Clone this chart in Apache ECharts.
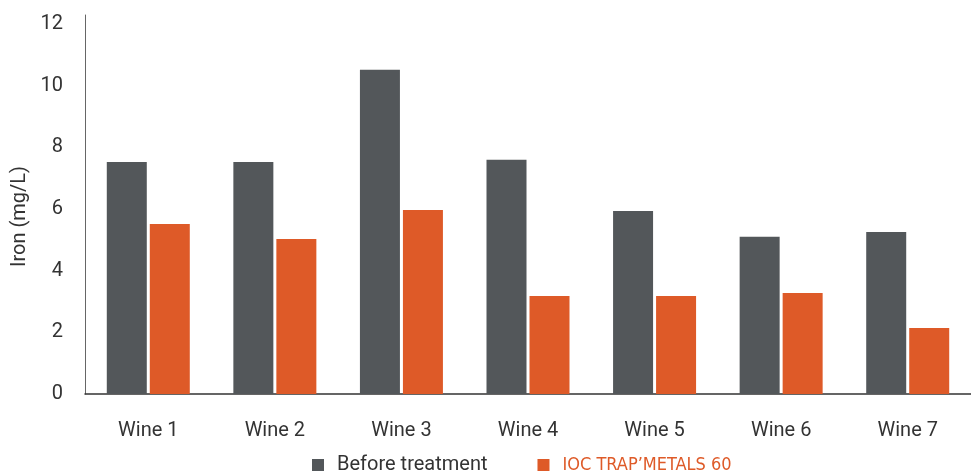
<!DOCTYPE html>
<html>
<head>
<meta charset="utf-8">
<script src="https://cdn.jsdelivr.net/npm/echarts@6/dist/echarts.min.js"></script>
<style>html,body{margin:0;padding:0;background:#fff}#c{width:971px;height:475px}</style>
</head>
<body>
<div id="c"></div>
<script>
const categories = ['Wine 1','Wine 2','Wine 3','Wine 4','Wine 5','Wine 6','Wine 7'];
const beforeTreatment = [7.53, 7.53, 10.52, 7.6, 5.94, 5.1, 5.26];
const trapMetals = [5.52, 5.03, 5.97, 3.18, 3.18, 3.28, 2.14];
const seriesNames = ['Before treatment', 'IOC TRAP\u2019METALS 60'];
const yTicks = [0, 2, 4, 6, 8, 10, 12];

const chart = echarts.init(document.getElementById('c'));
chart.setOption({
  animation: false,
  grid: {left: 85, top: 15, width: 894, height: 379},
  legend: {
    left: 307, top: 450,
    itemWidth: 12, itemHeight: 12, itemGap: 50,
    icon: 'rect',
    data: [
      {name: seriesNames[0], textStyle: {fontFamily: 'Roboto', fontSize: 20, color: '#333', padding: [0,0,0,8]}},
      {name: seriesNames[1], textStyle: {fontFamily: '"Liberation Sans Narrow", "DejaVu Sans Condensed", sans-serif', fontSize: 18, color: '#DE5A28', padding: [0,0,0,8]}}
    ]
  },
  xAxis: {
    type: 'category',
    data: categories,
    offset: 5,
    axisLine: {lineStyle: {color: '#333', width: 1.5}},
    axisTick: {show: false},
    axisLabel: {fontFamily: 'Roboto', fontSize: 20, color: '#333', margin: 22}
  },
  yAxis: {
    type: 'value',
    min: yTicks[0], max: 12.3, interval: 2,
    name: 'Iron (mg/L)',
    nameLocation: 'middle',
    nameGap: 54,
    nameTextStyle: {fontFamily: 'Roboto', fontSize: 20, color: '#333', padding: [0, 24, 0, 0]},
    axisLine: {show: true, lineStyle: {color: '#666', width: 1}},
    axisTick: {show: false},
    splitLine: {show: false},
    axisLabel: {fontFamily: 'Roboto', fontSize: 20, color: '#333', margin: 22, showMaxLabel: false,
      formatter: v => yTicks.includes(v) ? String(v) : ''}
  },
  series: [
    {name: seriesNames[0], type: 'bar', data: beforeTreatment, barWidth: 40, barGap: '7.5%', itemStyle: {color: '#53575A'}},
    {name: seriesNames[1], type: 'bar', data: trapMetals, barWidth: 40, barGap: '7.5%', itemStyle: {color: '#DE5A28'}}
  ]
});
</script>
</body>
</html>
